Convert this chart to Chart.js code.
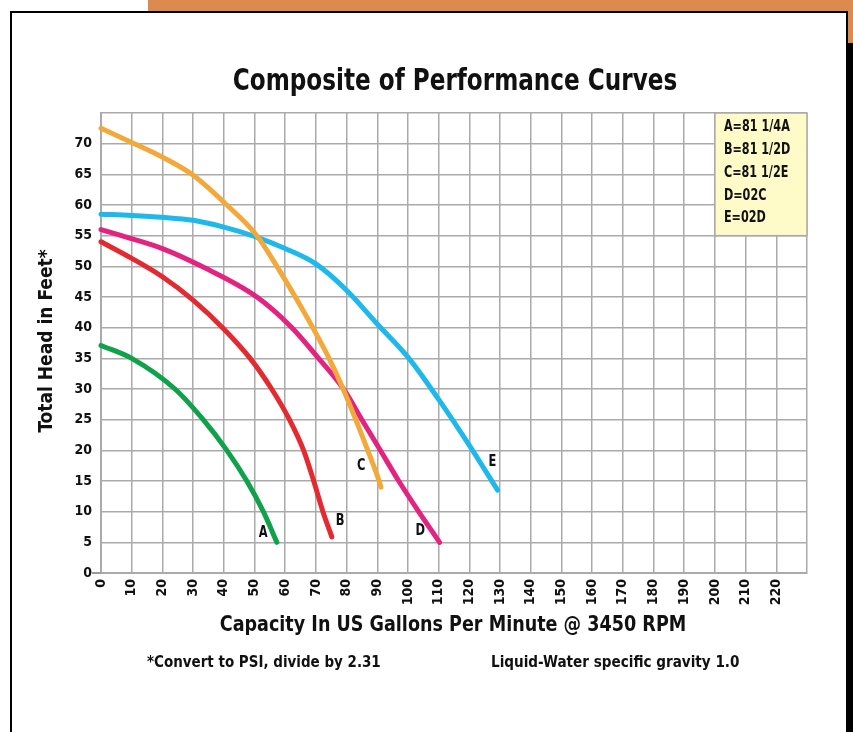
<!DOCTYPE html>
<html><head><meta charset="utf-8">
<script src="https://cdn.jsdelivr.net/npm/chart.js@4.4.0/dist/chart.umd.min.js"></script>
<style>
html,body{margin:0;padding:0;background:#fff;width:853px;height:732px;overflow:hidden;position:relative}
#bar1{position:absolute;left:148px;top:0;width:705px;height:12px;background:#dd8a50}
#bar2{position:absolute;left:847px;top:0;width:6px;height:43px;background:#dd8a50}
#frame{position:absolute;left:10px;top:11px;width:834px;height:740px;border:2px solid #000;border-bottom:none}
#bar3{position:absolute;left:846px;top:43px;width:7px;height:700px;background:#000}
canvas{position:absolute;left:0;top:0}
</style></head><body>
<div id="bar1"></div><div id="bar2"></div><div id="frame"></div><div id="bar3"></div>
<canvas id="c" width="853" height="732"></canvas>
<script>
// ---- data ----
const aFlow = [0, 10, 24.1, 33.3, 41, 47.5, 52.9, 57.3];
const aHead = [37.1, 35, 30, 25, 20, 15, 10, 5];
const bFlow = [0, 10, 20, 30, 40, 48.6, 55.6, 61.4, 66, 69.3, 72.3, 75.2];
const bHead = [54, 51.3, 48.3, 44.5, 39.8, 35, 30, 25, 20, 15, 10, 5.9];
const cFlow = [0, 10, 20, 29.6, 41, 50.8, 57.3, 63.3, 69, 74.3, 78.9, 83, 86.9, 90.6, 91.2];
const cHead = [72.5, 70.2, 67.8, 65, 60, 55, 50, 45, 40, 35, 30, 25, 20, 15, 14];
const dFlow = [0, 6.7, 20, 32.8, 50.8, 62.2, 70.9, 79, 85, 91, 97, 103.5, 110.3];
const dHead = [56, 55, 52.9, 50, 45, 40, 35, 30, 25, 20, 15, 10, 5];
const eFlow = [0, 10, 20, 30, 40, 50, 60, 70, 80, 90, 100, 110, 120, 129.2];
const eHead = [58.5, 58.3, 58.0, 57.5, 56.4, 54.9, 52.9, 50.4, 46.1, 40.6, 35.2, 28.3, 20.8, 13.5];
const curveNames = ['A', 'B', 'C', 'D', 'E'];
const labelFlow = [52.8, 77.9, 84.8, 104, 127.5];
const labelHead = [6.5, 8.4, 17.4, 6.8, 18];
const legendLines = ['A=81 1/4A', 'B=81 1/2D', 'C=81 1/2E', 'D=02C', 'E=02D'];
const xMin = 0, xMax = 230, xStep = 10;
const yMin = 0, yMax = 75, yStep = 5;
const titleText = 'Composite of Performance Curves';
const yTitle = 'Total Head in Feet*';
const xTitle = 'Capacity In US Gallons Per Minute @ 3450 RPM';
const note1 = '*Convert to PSI, divide by 2.31';
const note2 = 'Liquid-Water specific gravity 1.0';

const colors = ['#0fa24a', '#e22a30', '#f2a93a', '#e2237f', '#1fb8ea'];
const F = "'DejaVu Sans Condensed','Liberation Sans Narrow',sans-serif";

const pts = (xs, ys) => xs.map((v, i) => ({x: v, y: ys[i]}));
const series = [pts(aFlow, aHead), pts(bFlow, bHead), pts(cFlow, cHead), pts(dFlow, dHead), pts(eFlow, eHead)];

// draw text squeezed horizontally to mimic a condensed face
function sText(ctx, txt, x, y, size, sx, align, rot) {
  ctx.save();
  ctx.translate(x, y);
  if (rot) ctx.rotate(rot);
  ctx.scale(sx, 1);
  ctx.font = 'bold ' + size + 'px ' + F;
  ctx.textAlign = align || 'center';
  ctx.textBaseline = 'middle';
  ctx.fillText(txt, 0, 0);
  ctx.restore();
}

const deco = {
  id: 'deco',
  beforeDatasetsDraw(chart) {
    const {ctx, scales: {x, y}} = chart;
    const l = x.getPixelForValue(200), r = x.getPixelForValue(230);
    const t = y.getPixelForValue(75), b = y.getPixelForValue(55);
    ctx.save();
    ctx.fillStyle = '#fffbc9';
    ctx.fillRect(l, t, r - l, b - t);
    ctx.strokeStyle = '#aaaaaa'; ctx.lineWidth = 1.5;
    ctx.strokeRect(l, t, r - l, b - t);
    ctx.fillStyle = '#111';
    legendLines.forEach((s, i) => sText(ctx, s, l + 9, t + 14 + i * 22.9, 15, 0.83, 'left'));
    ctx.strokeStyle = '#999'; ctx.lineWidth = 2;
    ctx.beginPath();
    ctx.moveTo(x.getPixelForValue(0) - 9, y.getPixelForValue(0));
    ctx.lineTo(x.getPixelForValue(0), y.getPixelForValue(0));
    ctx.stroke();
    ctx.restore();
  },
  afterDatasetsDraw(chart) {
    const {ctx, scales: {x, y}} = chart;
    ctx.save();
    ctx.fillStyle = '#111';
    curveNames.forEach((n, i) => sText(ctx, n, x.getPixelForValue(labelFlow[i]), y.getPixelForValue(labelHead[i]), 15, 0.85, 'center'));
    ctx.restore();
  },
  afterDraw(chart) {
    const {ctx} = chart;
    ctx.save();
    ctx.fillStyle = '#111';
    sText(ctx, titleText, 455, 82, 30, 0.857, 'center');
    sText(ctx, xTitle, 453, 625, 22, 0.888, 'center');
    sText(ctx, yTitle, 47, 341, 20, 0.95, 'center', -Math.PI / 2);
    sText(ctx, note1, 147, 663, 16, 0.936, 'left');
    sText(ctx, note2, 491, 663, 16, 0.943, 'left');
    ctx.restore();
  }
};

new Chart(document.getElementById('c'), {
  type: 'scatter',
  data: {
    datasets: series.map((d, i) => ({
      label: curveNames[i],
      data: d,
      showLine: true,
      borderColor: colors[i],
      backgroundColor: colors[i],
      borderWidth: 5,
      borderCapStyle: 'round',
      borderJoinStyle: 'round',
      pointRadius: 0,
      pointHoverRadius: 0,
      cubicInterpolationMode: 'monotone',
      clip: false
    }))
  },
  options: {
    responsive: false,
    animation: false,
    devicePixelRatio: 1,
    layout: {padding: {left: 0, top: 113, right: 46, bottom: 0}},
    plugins: {legend: {display: false}, tooltip: {enabled: false}, title: {display: false}},
    scales: {
      x: {
        type: 'linear', min: xMin, max: xMax,
        afterFit(s) { s.height = 159; },
        border: {color: '#aaaaaa', width: 2},
        grid: {color: '#aaaaaa', lineWidth: 1.5, drawTicks: false},
        ticks: {
          stepSize: xStep, autoSkip: false, minRotation: 90, maxRotation: 90, padding: 6,
          color: '#111', font: {family: F, size: 14, weight: 'bold'},
          callback: v => (v === xMax ? '' : String(v))
        }
      },
      y: {
        type: 'linear', min: yMin, max: yMax,
        afterFit(s) { s.width = 101; },
        border: {color: '#aaaaaa', width: 2},
        grid: {color: '#aaaaaa', lineWidth: 1.5, drawTicks: false},
        ticks: {
          stepSize: yStep, padding: 9, color: '#111',
          font: {family: F, size: 14, weight: 'bold'},
          callback: v => (v === yMax ? '' : String(v))
        }
      }
    }
  },
  plugins: [deco]
});
</script>
</body></html>
